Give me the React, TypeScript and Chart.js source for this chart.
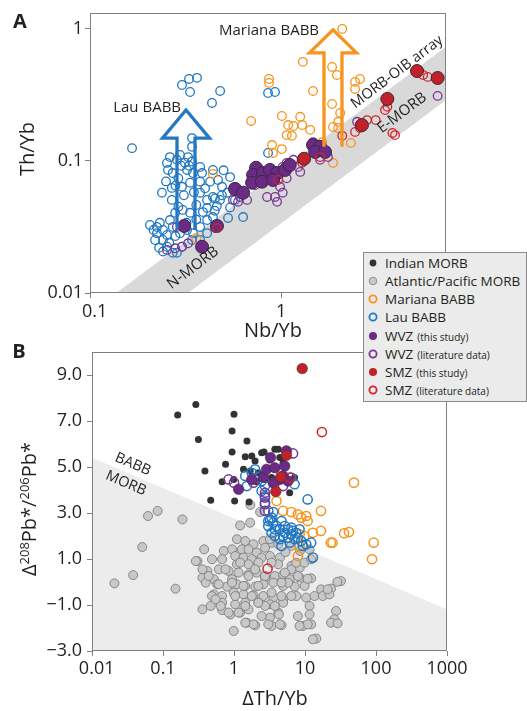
import React, { useEffect, useRef } from 'react';
import { Chart, registerables } from 'chart.js';
Chart.register(...registerables);

const FONT = "'Open Sans', 'Noto Sans', sans-serif";
const INK = '#231f20';
const W = 527, H = 711;
type P = [number, number];

// ---------------- Panel A: Nb/Yb vs Th/Yb ----------------
const aLau: P[] = [
  [0.303,0.376],[0.33,0.418],[0.363,0.426],[0.334,0.333],[0.48,0.339],[0.435,0.275],[0.166,0.125],[0.342,0.149],
  [0.855,0.327],[0.93,0.333],[0.855,0.115],[0.342,0.128],[0.326,0.107],
  [0.262,0.107],[0.296,0.111],[0.253,0.0967],[0.285,0.102],[0.314,0.097],[0.342,0.099],[0.377,0.09],[0.322,0.0855],
  [0.271,0.081],[0.256,0.0855],[0.346,0.081],[0.44,0.0855],[0.386,0.081],[0.238,0.0575],[0.268,0.0507],[0.303,0.0637],
  [0.334,0.0684],[0.377,0.0697],[0.425,0.0697],[0.468,0.0718],[0.541,0.0755],[0.491,0.0637],[0.44,0.0534],[0.41,0.0507],
  [0.377,0.0575],[0.479,0.0507],[0.541,0.0445],[0.528,0.037],[0.633,0.0376],[0.522,0.0575],[0.224,0.0316],[0.241,0.03],
  [0.224,0.0284],[0.253,0.0275],[0.271,0.0316],[0.296,0.0284],[0.322,0.03],[0.346,0.0284],[0.377,0.0316],[0.41,0.0357],
  [0.44,0.0376],[0.334,0.0405],[0.306,0.0426],[0.279,0.0405],[0.262,0.0357],[0.241,0.0252],[0.253,0.0224],[0.271,0.0202],
  [0.303,0.0224],[0.241,0.0206],[0.342,0.0252],[0.377,0.0252],[0.41,0.0284],[0.285,0.0202],[0.206,0.0328],[0.215,0.03],
  [0.232,0.034],[0.219,0.0252],[0.268,0.0625],[0.29,0.074],[0.36,0.0464],[0.574,0.0507],[0.41,0.044],[0.461,0.0455],
  [0.31,0.055],[0.35,0.058],[0.29,0.045],[0.36,0.036],[0.32,0.034],[0.28,0.027],[0.26,0.024],[0.23,0.022],[0.5,0.085],
  [0.33,0.092],[0.4,0.062],[0.45,0.042],[0.39,0.041],[0.3,0.092],[0.28,0.065],[0.25,0.07],[0.451,0.052],[0.49,0.055]
];
const aMariana: P[] = [
  [2.09,1.0],[1.30,0.563],[1.85,0.515],[1.96,0.448],[0.865,0.418],[0.865,0.39],[1.47,0.339],[2.44,0.397],[2.59,0.418],
  [2.44,0.351],[1.85,0.27],[2.04,0.231],[0.697,0.201],[1.01,0.219],[1.26,0.216],[1.09,0.187],[1.16,0.184],[1.29,0.187],
  [1.42,0.172],[1.07,0.157],[1.14,0.155],[1.87,0.181],[1.99,0.198],[1.99,0.178],[0.897,0.132],[1.01,0.123],[0.908,0.115],
  [2.32,0.137],[1.87,0.0967],[0.44,0.0797],[0.36,0.026],[1.64,0.139]
];
const aWvzThis: P[] = [
  [0.311,0.0322],[0.462,0.0322],[0.386,0.0224],[0.574,0.0615],[0.633,0.0575],[0.74,0.0888],[0.714,0.0783],[0.805,0.081],
  [0.875,0.0855],[0.953,0.081],[0.705,0.0684],[0.795,0.0697],[0.908,0.0718],[1.05,0.0855],[1.11,0.0932],[1.47,0.132],
  [1.60,0.128],[1.51,0.117],[1.70,0.117]
];
const aWvzLit: P[] = [
  [0.279,0.0218],[0.303,0.0224],[0.326,0.0238],[0.285,0.0316],[0.253,0.0212],[0.56,0.0507],[0.596,0.049],[0.664,0.0507],
  [0.61,0.0534],[0.845,0.0534],[0.953,0.049],[1.02,0.0575],[0.988,0.0637],[0.93,0.0534],[1.07,0.0967],[1.02,0.09],
  [1.16,0.102],[1.23,0.09],[1.76,0.107],[1.60,0.102],[1.47,0.139],[2.5,0.198],[6.6,0.311],[0.451,0.031],[0.731,0.0658],
  [1.07,0.074],[1.26,0.0826]
];
const aSmzThis: P[] = [[1.32,0.104],[2.65,0.187],[3.6,0.295],[5.15,0.48],[6.6,0.425]];
const aSmzLit: P[] = [
  [0.462,0.031],[0.965,0.0718],[2.09,0.155],[2.44,0.166],[2.82,0.204],[3.13,0.204],[3.6,0.257],[3.5,0.243],[3.83,0.163],
  [3.95,0.157],[5.54,0.448],[5.86,0.433],[1.60,0.107],[1.29,0.097],[2.59,0.178]
];
const aXTicks = [0.1, 1];
const aXTickLabels = ['0.1', '1'];
const aYTicks = [0.01, 0.1, 1];
const aYTickLabels = ['0.01', '0.1', '1'];
// MORB-OIB array edges (Nb/Yb, Th/Yb)
const aBandUpper: P[] = [[0.1, 0.0071], [10, 1.03]];
const aBandLower: P[] = [[0.2, 0.0059], [10, 0.407]];
// arrows: Nb/Yb, bottom, head base, tip (Th/Yb)
const aLauArrow = [0.318, 0.03, 0.149, 0.243];
const aMarianaArrow = [1.87, 0.128, 0.658, 0.983];

// ---------------- Panel B: ΔTh/Yb vs Δ208Pb*/206Pb* ----------------
const bIndian: P[] = [
  [0.161,7.26],[0.29,7.72],[1.0,7.29],[0.315,6.2],[0.94,6.57],[1.52,6.13],[0.94,5.65],[0.76,5.12],[0.39,4.83],[1.44,5.45],
  [2.45,5.62],[3.76,5.77],[1.98,5.26],[1.36,4.9],[0.68,4.36],[0.99,4.46],[0.47,3.55],[1.02,3.52],[1.63,3.48],[2.09,4.36],
  [2.73,4.46],[4.91,5.19],[5.47,5.55],[7.14,4.54],[6.08,3.88],[2.88,4.9],[2.2,4.75],[3.38,4.54],[1.69,4.83],[4.42,5.41],
  [1.78,5.48],[2.65,5.65],[4.2,5.77],[3.2,5.3]
];
const bAtlantic: P[] = [
  [0.084,3.09],[0.188,2.72],[1.22,2.46],[1.69,2.58],[1.10,1.86],[1.44,1.78],[1.88,1.64],[2.59,1.78],[3.39,1.71],[0.72,1.35],
  [0.94,1.42],[1.29,1.42],[1.60,1.42],[2.09,1.28],[2.74,1.49],[0.305,0.91],[0.68,0.99],[1.04,1.13],[1.36,1.06],[1.78,0.99],
  [2.46,1.06],[3.21,1.13],[4.43,1.06],[1.10,0.77],[1.60,0.77],[2.21,0.84],[4.20,0.77],[6.45,0.70],[8.43,0.62],[0.42,0.48],
  [0.61,0.55],[0.84,0.48],[1.16,0.41],[1.60,0.33],[2.09,0.41],[2.74,0.19],[3.77,0.26],[4.93,0.33],[6.11,0.12],[8.43,0.19],
  [12.2,0.16],[0.36,0.19],[0.52,0.12],[0.94,0.12],[0.15,-0.29],[0.40,-0.03],[0.58,-0.10],[0.80,-0.20],[1.10,-0.10],[1.44,-0.17],
  [1.99,-0.20],[2.59,-0.10],[3.58,-0.03],[4.93,-0.17],[7.18,-0.20],[9.89,-0.17],[16.9,-0.32],[23.3,-0.29],[32.1,0.04],[0.52,-0.54],
  [0.68,-0.61],[0.99,-0.46],[1.36,-0.54],[1.88,-0.58],[2.59,-0.61],[3.58,-0.68],[4.93,-0.75],[7.57,-0.61],[10.4,-0.68],[13.6,-0.61],
  [17.8,-0.61],[22.1,-0.54],[0.68,-0.90],[1.04,-0.97],[1.44,-0.90],[2.21,-0.90],[3.21,-0.97],[4.93,-0.90],[11.6,-1.04],[0.36,-1.19],
  [0.47,-1.04],[0.68,-1.22],[0.89,-1.41],[1.22,-1.33],[1.60,-1.19],[2.74,-1.04],[4.20,-1.33],[11.6,-1.41],[27.4,-1.26],[25.9,-1.62],
  [0.99,-2.13],[1.52,-1.77],[1.99,-1.88],[3.21,-1.55],[4.29,-1.41],[4.67,-1.88],[9.38,-1.91],[12.2,-1.84],[23.3,-1.77],[28.8,-1.80],
  [14.4,-2.46],[3.39,-1.91],[0.0207,-0.06],[0.038,0.30],[0.051,1.52],[0.0615,2.87],[0.29,0.91],[2.33,3.04],[10.9,0.14],[28.6,0.01],
  [20.8,-0.32],[12.9,-2.49],[10.9,-1.84],[8.38,-1.91],[4.42,-1.84],[3.04,-1.84],[1.88,-1.84],[1.44,-1.77],[0.38,1.42],[0.49,0.99],
  [0.36,0.55],[0.44,0.26],[0.61,-0.10],[0.49,-0.61],[0.65,-1.04],[0.84,-1.33],[1.04,-0.61],[1.36,-0.17],[1.78,-0.61],[3.38,-0.46],
  [4.66,-0.61],[5.77,-0.03],[6.42,0.55],[7.53,0.84],[9.84,0.84],[12.2,0.99],[11.6,1.42],[7.95,0.26],[5.19,0.41],[3.38,0.84],
  [1.98,0.55],[1.22,0.84],[0.76,0.55],[0.94,-0.03],[1.60,0.26],[2.20,-0.17],[2.73,0.26],[4.66,-0.03],[6.42,-0.61],[3.76,-1.04],
  [1.44,-1.04],[1.16,-1.33],[2.45,-1.48],[7.95,-1.48],[2.2,-0.9],[0.55,-0.75],[4.2,1.64],[6.4,1.57],[3.2,1.86],[5.3,1.3],
  [8.5,1.35],[1.7,3.35]
];
const bMariana: P[] = [
  [3.97,3.52],[6.42,3.04],[7.95,2.94],[8.85,2.80],[10.4,2.87],[10.9,2.65],[16.8,3.09],[12.9,2.14],[16.8,2.22],[23.1,1.71],
  [24.4,1.71],[35.5,2.12],[41.7,2.17],[48.9,4.32],[92.8,1.71],[87.9,0.99],[7.95,1.13],[8.38,1.57],[4.91,3.09],[8.4,2.07],[9.8,2.0]
];
const bLau: P[] = [
  [1.52,4.17],[1.98,4.90],[2.20,4.54],[1.78,4.75],[2.45,4.39],[2.73,4.17],[2.45,3.96],[2.73,3.74],[2.73,3.45],[3.04,3.09],
  [3.21,2.72],[3.57,2.58],[3.04,2.43],[3.76,2.29],[3.38,2.14],[4.66,2.65],[5.18,2.43],[5.77,2.29],[6.42,2.07],[6.77,2.22],
  [7.95,1.93],[8.85,1.78],[10.4,1.64],[12.2,1.71],[12.9,1.06],[10.9,3.59],[4.66,1.57],[6.42,4.54],[7.14,4.25],[3.76,2.0],
  [4.42,1.86],[5.77,1.93],[7.53,2.14],[8.38,2.29],[3.38,2.80],[3.04,2.65],[4.42,2.29],[5.18,2.14],[3.97,2.43],[4.9,2.0],
  [6.1,1.71],[7.14,1.86],[9.3,1.57],[6.42,2.36],[3.57,3.04],[1.44,4.61]
];
const bWvzThis: P[] = [
  [1.16,4.03],[1.78,4.46],[2.59,4.57],[2.88,4.90],[3.27,5.41],[3.76,4.97],[5.18,5.04],[4.42,4.46],[3.57,4.32],[5.47,5.70],
  [4.91,4.61],[5.77,4.39]
];
const bWvzLit: P[] = [[0.84,4.46],[1.0,4.32],[2.73,3.67],[2.73,3.38],[2.73,3.09],[6.77,5.59],[2.73,3.88],[1.88,4.32],[4.91,4.17]];
const bSmzThis: P[] = [[9.14,9.28],[5.47,5.51],[4.56,4.57],[3.88,3.93]];
const bSmzLit: P[] = [[17.3,6.52],[2.97,0.58],[6.08,4.54]];
const bXTicks = [0.01, 0.1, 1, 10, 100, 1000];
const bXTickLabels = ['0.01', '0.1', '1', '10', '100', '1000'];
const bYTicks = [-3, -1, 1, 3, 5, 7, 9];
const bYTickLabels = ['\u22123.0', '\u22121.0', '1.0', '3.0', '5.0', '7.0', '9.0'];
// BABB / MORB divide (ΔTh/Yb, Δ208Pb*/206Pb*)
const bDivide: P[] = [[0.01, 5.4], [1000, -1.2]];

// ---------------- legend ----------------
const legendLabels = ['Indian MORB', 'Atlantic/Pacific MORB', 'Mariana BABB', 'Lau BABB', 'WVZ', 'WVZ', 'SMZ', 'SMZ'];
const legendNotes = ['', '', '', '', '(this study)', '(literature data)', '(this study)', '(literature data)'];

// styles
const C = {
  indian: { fill: '#333333', stroke: '#333333' },
  atlantic: { fill: '#c8c8c8', stroke: '#7d7d7d' },
  mariana: { fill: 'rgba(0,0,0,0)', stroke: '#f7941d' },
  lau: { fill: 'rgba(0,0,0,0)', stroke: '#2178c2' },
  wvzThis: { fill: '#6a2a86', stroke: '#3a2a40' },
  wvzLit: { fill: 'rgba(0,0,0,0)', stroke: '#7b3596' },
  smzThis: { fill: '#c1212a', stroke: '#3a2a2a' },
  smzLit: { fill: 'rgba(0,0,0,0)', stroke: '#d1242c' },
};
const legendStyles = [
  { ...C.indian, r: 3.4, w: 0 }, { ...C.atlantic, r: 3.8, w: 0.8 }, { ...C.mariana, r: 3.6, w: 1.8 }, { ...C.lau, r: 3.6, w: 1.8 },
  { ...C.wvzThis, r: 4, w: 0 }, { ...C.wvzLit, r: 3.6, w: 1.8 }, { ...C.smzThis, r: 4, w: 0 }, { ...C.smzLit, r: 3.6, w: 1.8 },
];

const toXY = (pts: P[]) => pts.map(([x, y]) => ({ x, y }));

function ds(label: string, pts: P[], s: { fill: string; stroke: string }, r: number, bw: number, order: number) {
  return {
    label, data: toXY(pts), order,
    pointRadius: r, pointHoverRadius: r, pointBorderWidth: bw,
    pointBackgroundColor: s.fill, pointBorderColor: s.stroke,
    backgroundColor: s.fill, borderColor: s.stroke, showLine: false,
  };
}

function toPx(chart: any, p: P): [number, number] {
  return [chart.scales.x.getPixelForValue(p[0]), chart.scales.y.getPixelForValue(p[1])];
}

function fillPoly(chart: any, pts: P[], color: string) {
  const { ctx, chartArea: ca } = chart;
  ctx.save();
  ctx.beginPath();
  ctx.rect(ca.left, ca.top, ca.right - ca.left, ca.bottom - ca.top);
  ctx.clip();
  ctx.beginPath();
  pts.forEach((p, i) => {
    const [X, Y] = toPx(chart, p);
    if (i) ctx.lineTo(X, Y); else ctx.moveTo(X, Y);
  });
  ctx.closePath();
  ctx.fillStyle = color;
  ctx.fill();
  ctx.restore();
}

function drawText(ctx: CanvasRenderingContext2D, s: string, x: number, y: number, size: number, rotDeg = 0, weight = 'normal', align: CanvasTextAlign = 'center') {
  ctx.save();
  ctx.translate(x, y);
  ctx.rotate((rotDeg * Math.PI) / 180);
  ctx.font = `${weight} ${size}px ${FONT}`;
  ctx.fillStyle = INK;
  ctx.textAlign = align;
  ctx.textBaseline = 'middle';
  ctx.fillText(s, 0, 0);
  ctx.restore();
}

function drawRich(ctx: CanvasRenderingContext2D, segs: { t: string; size: number; rise: number }[], cx: number, cy: number, rotDeg: number) {
  ctx.save();
  ctx.translate(cx, cy);
  ctx.rotate((rotDeg * Math.PI) / 180);
  ctx.fillStyle = INK;
  ctx.textAlign = 'left';
  ctx.textBaseline = 'alphabetic';
  let total = 0;
  const ws = segs.map((s) => { ctx.font = `${s.size}px ${FONT}`; const w = ctx.measureText(s.t).width; total += w; return w; });
  let x = -total / 2;
  segs.forEach((s, i) => { ctx.font = `${s.size}px ${FONT}`; ctx.fillText(s.t, x, 7 - s.rise); x += ws[i]; });
  ctx.restore();
}

function drawFrame(chart: any) {
  const { ctx, chartArea: ca } = chart;
  ctx.save();
  ctx.strokeStyle = '#808080';
  ctx.lineWidth = 1;
  ctx.strokeRect(ca.left + 0.5, ca.top + 0.5, ca.right - ca.left - 1, ca.bottom - ca.top - 1);
  ctx.restore();
}

function drawArrow(chart: any, a: number[], color: string) {
  const { ctx } = chart;
  const [cx, yb] = toPx(chart, [a[0], a[1]]);
  const yh = chart.scales.y.getPixelForValue(a[2]);
  const yt = chart.scales.y.getPixelForValue(a[3]);
  const sh = 9, hh = 23.5;
  ctx.save();
  ctx.strokeStyle = color;
  ctx.lineWidth = 3.3;
  ctx.lineJoin = 'miter';
  ctx.beginPath();
  ctx.moveTo(cx - sh, yb);
  ctx.lineTo(cx - sh, yh);
  ctx.lineTo(cx - hh, yh);
  ctx.lineTo(cx, yt);
  ctx.lineTo(cx + hh, yh);
  ctx.lineTo(cx + sh, yh);
  ctx.lineTo(cx + sh, yb);
  ctx.stroke();
  ctx.restore();
}

const tickFont = { family: FONT, size: 18 };
const gridCfg = { drawOnChartArea: false, drawTicks: true, tickLength: 5, color: '#808080', tickColor: '#808080' };

function labelFrom(ticks: number[], labels: string[], shiftFirst: boolean) {
  return (v: any) => {
    const i = ticks.indexOf(Number(v));
    if (i < 0) return '';
    return shiftFirst && i === 0 ? '  ' + labels[i] : labels[i];
  };
}

const panelAPlugin = {
  id: 'panelA',
  beforeDatasetsDraw(chart: any) {
    fillPoly(chart, [...aBandUpper, ...aBandLower.slice().reverse()], '#d9d9d9');
  },
  afterDatasetsDraw(chart: any) {
    const ctx = chart.ctx;
    drawArrow(chart, aLauArrow, '#2477c0');
    drawArrow(chart, aMarianaArrow, '#f7941d');
    const t = (s: string, p: P, size: number, rot = 0) => { const [X, Y] = toPx(chart, p); drawText(ctx, s, X, Y, size, rot); };
    t('Lau BABB', [0.199, 0.252], 15);
    t('Mariana BABB', [0.865, 0.966], 15);
    t('MORB-OIB array', [4.05, 0.472], 14.5, -37);
    t('E-MORB', [4.3, 0.231], 15, -37);
    t('N-MORB', [0.346, 0.0155], 15, -37);
  },
  afterDraw(chart: any) {
    const ctx = chart.ctx;
    drawFrame(chart);
    drawText(ctx, 'Th/Yb', 28, 149, 20, -90);
    drawText(ctx, 'Nb/Yb', 273, 331, 20);
    drawText(ctx, 'A', 20, 22, 20, 0, 'bold');
  },
};

const panelBPlugin = {
  id: 'panelB',
  beforeDatasetsDraw(chart: any) {
    const yMin = chart.scales.y.min;
    fillPoly(chart, [bDivide[0], bDivide[1], [bDivide[1][0], yMin], [bDivide[0][0], yMin]], '#ececec');
  },
  afterDatasetsDraw(chart: any) {
    const ctx = chart.ctx;
    const t = (s: string, p: P, size: number, rot = 0) => { const [X, Y] = toPx(chart, p); drawText(ctx, s, X, Y, size, rot); };
    t('BABB', [0.0376, 5.12], 14.5, 23);
    t('MORB', [0.030, 4.29], 14.5, 23);
  },
  afterDraw(chart: any) {
    const ctx = chart.ctx;
    drawFrame(chart);
    drawRich(ctx, [
      { t: '\u0394', size: 20, rise: 0 }, { t: '208', size: 13, rise: 7 }, { t: 'Pb*/', size: 20, rise: 0 },
      { t: '206', size: 13, rise: 7 }, { t: 'Pb*', size: 20, rise: 0 },
    ], 29, 509, -90);
    drawText(ctx, '\u0394Th/Yb', 275, 699, 20);
    drawText(ctx, 'B', 19, 352, 20, 0, 'bold');
  },
};

function baseOptions(padding: any) {
  return {
    animation: false as const,
    responsive: false,
    devicePixelRatio: 1,
    events: [] as any[],
    layout: { padding },
    plugins: { legend: { display: false }, tooltip: { enabled: false }, title: { display: false } },
  };
}

function configA(): any {
  const n = 6;
  return {
    type: 'scatter',
    data: {
      datasets: [
        ds('Lau BABB', aLau, C.lau, 4.3, 1.3, n),
        ds('Mariana BABB', aMariana, C.mariana, 4.3, 1.3, n - 1),
        ds('WVZ (literature data)', aWvzLit, C.wvzLit, 4.3, 1.3, n - 2),
        ds('WVZ (this study)', aWvzThis, C.wvzThis, 6.5, 1, n - 3),
        ds('SMZ (literature data)', aSmzLit, C.smzLit, 4.3, 1.3, n - 4),
        ds('SMZ (this study)', aSmzThis, C.smzThis, 6.5, 1, n - 5),
      ],
    },
    options: {
      ...baseOptions({ top: 13, right: 81, bottom: H - 293 - 30, left: 0 }),
      scales: {
        x: {
          type: 'logarithmic', min: 0.1, max: 7.3, bounds: 'data',
          afterBuildTicks: (s: any) => { s.ticks = aXTicks.map((value) => ({ value })); },
          afterFit: (s: any) => { s.height = 30; },
          ticks: { callback: labelFrom(aXTicks, aXTickLabels, true), font: tickFont, color: INK, padding: 3, autoSkip: false, maxRotation: 0 },
          grid: gridCfg, border: { display: false },
        },
        y: {
          type: 'logarithmic', min: 0.01, max: 1.32, bounds: 'data',
          afterBuildTicks: (s: any) => { s.ticks = aYTicks.map((value) => ({ value })); },
          afterFit: (s: any) => { s.width = 90; },
          ticks: { callback: labelFrom(aYTicks, aYTickLabels, false), font: tickFont, color: INK, padding: 2, autoSkip: false },
          grid: gridCfg, border: { display: false },
        },
      },
    },
    plugins: [panelAPlugin],
  };
}

function configB(): any {
  const n = 8;
  return {
    type: 'scatter',
    data: {
      datasets: [
        ds('Atlantic/Pacific MORB', bAtlantic, C.atlantic, 4.5, 0.9, n),
        ds('Indian MORB', bIndian, C.indian, 3.5, 0, n - 1),
        ds('Mariana BABB', bMariana, C.mariana, 4.6, 1.5, n - 2),
        ds('Lau BABB', bLau, C.lau, 4.6, 1.5, n - 3),
        ds('WVZ (literature data)', bWvzLit, C.wvzLit, 4.6, 1.5, n - 4),
        ds('WVZ (this study)', bWvzThis, C.wvzThis, 5.3, 0.5, n - 5),
        ds('SMZ (literature data)', bSmzLit, C.smzLit, 4.6, 1.5, n - 6),
        ds('SMZ (this study)', bSmzThis, C.smzThis, 5.3, 0.5, n - 7),
      ],
    },
    options: {
      ...baseOptions({ top: 352, right: 80, bottom: H - 651 - 30, left: 0 }),
      scales: {
        x: {
          type: 'logarithmic', min: 0.01, max: 1000, bounds: 'data',
          afterBuildTicks: (s: any) => { s.ticks = bXTicks.map((value) => ({ value })); },
          afterFit: (s: any) => { s.height = 30; },
          ticks: { callback: labelFrom(bXTicks, bXTickLabels, true), font: tickFont, color: INK, padding: 2, autoSkip: false, maxRotation: 0 },
          grid: gridCfg, border: { display: false },
        },
        y: {
          type: 'linear', min: -3, max: 10, bounds: 'data',
          afterBuildTicks: (s: any) => { s.ticks = bYTicks.map((value) => ({ value })); },
          afterFit: (s: any) => { s.width = 92; },
          ticks: { callback: labelFrom(bYTicks, bYTickLabels, false), font: tickFont, color: INK, padding: 5, autoSkip: false },
          grid: gridCfg, border: { display: false },
        },
      },
    },
    plugins: [panelBPlugin],
  };
}

function Legend() {
  return (
    <div style={{ position: 'absolute', left: 363, top: 252, width: 164, height: 150, background: '#ebebeb', border: '1px solid #8a8a8a', boxSizing: 'border-box', fontFamily: FONT, color: INK }}>
      {legendLabels.map((lab, i) => {
        const s = legendStyles[i];
        return (
          <div key={i} style={{ position: 'absolute', left: 0, top: 1 + i * 18.15, height: 18, display: 'flex', alignItems: 'center', whiteSpace: 'nowrap' }}>
            <svg width={21} height={18} style={{ flex: 'none', display: 'block' }}>
              <circle cx={9} cy={9} r={s.r} fill={s.fill} stroke={s.w ? s.stroke : 'none'} strokeWidth={s.w} />
            </svg>
            <span style={{ fontSize: 13.5, lineHeight: '18px' }}>{lab}</span>
            {legendNotes[i] ? <span style={{ fontSize: 10, lineHeight: '18px', marginLeft: 4, paddingTop: 2 }}>{legendNotes[i]}</span> : null}
          </div>
        );
      })}
    </div>
  );
}

export default function App() {
  const refA = useRef<HTMLCanvasElement>(null);
  const refB = useRef<HTMLCanvasElement>(null);
  useEffect(() => {
    Chart.defaults.font.family = FONT;
    const ca = new Chart(refA.current as HTMLCanvasElement, configA());
    const cb = new Chart(refB.current as HTMLCanvasElement, configB());
    return () => { ca.destroy(); cb.destroy(); };
  }, []);
  return (
    <div style={{ position: 'absolute', left: 0, top: 0, width: W, height: H, background: '#fff', overflow: 'hidden' }}>
      <canvas ref={refA} width={W} height={H} style={{ position: 'absolute', left: 0, top: 0 }} />
      <canvas ref={refB} width={W} height={H} style={{ position: 'absolute', left: 0, top: 0 }} />
      <Legend />
    </div>
  );
}
